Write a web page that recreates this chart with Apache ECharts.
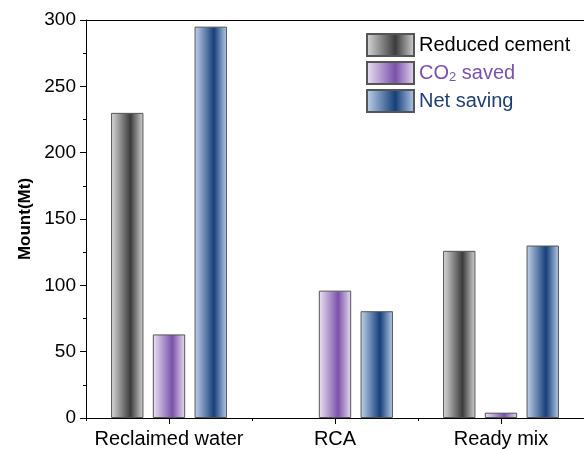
<!DOCTYPE html>
<html><head><meta charset="utf-8">
<script src="https://cdn.jsdelivr.net/npm/echarts@6/dist/echarts.min.js"></script>
<style>html,body{margin:0;padding:0;background:#fff}#c{width:584px;height:449px}</style>
</head><body><div id="c"></div>
<script>
const categories = ['Reclaimed water', 'RCA', 'Ready mix'];
const reducedCement = [230, null, 126];
const co2Saved = [63, 96, 4];
const netSaving = [295, 80.5, 130];
const yTicks = [0, 50, 100, 150, 200, 250, 300];

function grad(light, dark, light2) {
  return new echarts.graphic.LinearGradient(0, 0, 1, 0, [
    {offset: 0, color: light}, {offset: 0.6, color: dark}, {offset: 1, color: light2}
  ]);
}
const F = 'Liberation Sans, Arial, sans-serif';
const chart = echarts.init(document.getElementById('c'));
const barStyle = (c) => ({color: c, borderColor: '#555', borderWidth: 1});
chart.setOption({
  animation: false,
  backgroundColor: '#fff',
  grid: {left: 86, top: 20, width: 509, height: 399},
  legend: {
    left: 361, top: 28, orient: 'vertical', itemWidth: 47, itemHeight: 22, itemGap: 4,
    icon: 'rect',
    data: [
      {name: 'Reduced cement', textStyle: {color: '#000'}},
      {name: 'CO2 saved', textStyle: {color: '#7b52ab'}},
      {name: 'Net saving', textStyle: {color: '#1f3f73'}}
    ],
    formatter: (n) => n === 'CO2 saved' ? '{a|CO}{s|2}{a| saved}' : n,
    textStyle: {fontFamily: F, fontSize: 20, lineHeight: 22, rich: {
      a: {fontFamily: F, fontSize: 20, color: '#7b52ab', lineHeight: 22},
      s: {fontFamily: F, fontSize: 13, color: '#7b52ab', verticalAlign: 'bottom', padding: [10, 0, 0, 0]}
    }}
  },
  xAxis: [
    {type: 'category', data: categories, position: 'bottom',
     axisLine: {lineStyle: {color: '#000', width: 1}},
     axisTick: {show: true, alignWithLabel: true, length: 6, inside: false, lineStyle: {color: '#000'}},
     axisLabel: {interval: 0, fontFamily: F, fontSize: 20, color: '#000', margin: 11}},
    {type: 'category', data: categories, position: 'bottom',
     axisLine: {show: false},
     axisTick: {show: true, length: 3, lineStyle: {color: '#000'}},
     axisLabel: {show: false}},
    {type: 'category', data: categories, position: 'top',
     axisLine: {show: true, lineStyle: {color: '#000'}},
     axisTick: {show: false}, axisLabel: {show: false}}
  ],
  yAxis: {
    type: 'value', min: 0, max: 300, interval: 50,
    name: 'Mount(Mt)', nameLocation: 'middle', nameGap: 49,
    nameTextStyle: {fontFamily: F, fontSize: 17, fontWeight: 'bold', color: '#000'},
    axisLine: {show: true, lineStyle: {color: '#000'}},
    axisTick: {show: true, length: 6, lineStyle: {color: '#000'}},
    minorTick: {show: true, splitNumber: 2, length: 3, lineStyle: {color: '#000'}},
    splitLine: {show: false},
    axisLabel: {fontFamily: F, fontSize: 19, color: '#000', margin: 10,
      formatter: (v) => yTicks.includes(v) ? String(v) : ''}
  },
  series: [
    {name: 'Reduced cement', type: 'bar', data: reducedCement, barWidth: '19.5%', barGap: '29%',
     itemStyle: barStyle(grad('#dadada', '#3c3c3c', '#d4d4d4'))},
    {name: 'CO2 saved', type: 'bar', data: co2Saved, barWidth: '19.5%', barGap: '29%',
     itemStyle: barStyle(grad('#ece4f3', '#7a52aa', '#e6dcef'))},
    {name: 'Net saving', type: 'bar', data: netSaving, barWidth: '19.5%', barGap: '29%',
     itemStyle: barStyle(grad('#c2d4ec', '#163f7a', '#b8cce8'))}
  ]
});
</script></body></html>
